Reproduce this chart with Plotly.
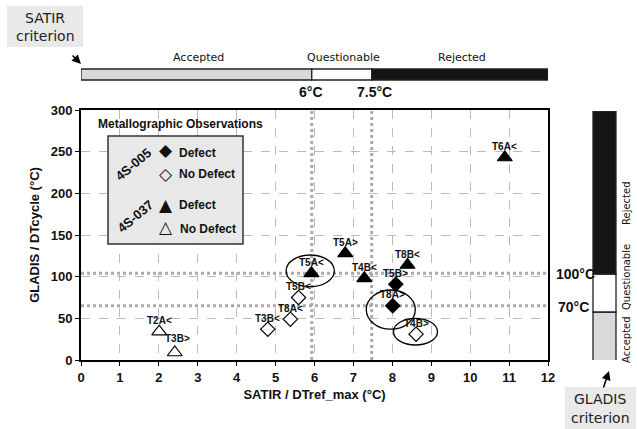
import plotly.graph_objects as go

# ---------------- data ----------------
d005_def_lbl = ["T5B>", "T8A>"]
d005_def_x = [8.09, 8.01]
d005_def_y = [91, 65]

d005_nod_lbl = ["T3B<", "T8A<", "T5B<", "T4B>"]
d005_nod_x = [4.80, 5.38, 5.59, 8.61]
d005_nod_y = [37, 49, 75, 31]

d037_def_lbl = ["T5A<", "T4B<", "T5A>", "T8B<", "T6A<"]
d037_def_x = [5.92, 7.28, 6.79, 8.39, 10.89]
d037_def_y = [104, 98, 128, 114, 243]

d037_nod_lbl = ["T2A<", "T3B>"]
d037_nod_x = [2.01, 2.41]
d037_nod_y = [34, 9]

satir_limits = [5.93, 7.47]      # 6°C, 7.5°C
gladis_limits = [65, 104]        # 70°C, 100°C lines
gladis_bar = [-6, 57.6, 103.2, 298]
x_ticks = list(range(0, 13))
y_ticks = [0, 50, 100, 150, 200, 250, 300]

# label offsets (style): (xshift, yshift) in px
lbl_off = {"T3B>": (3, 14)}

# ---------------- helpers (pixel -> paper) ----------------
L, R, T, B = 81, 548, 110, 360
def PX(X):
    return (X - L) / (R - L)
def PY(Y):
    return (B - Y) / (B - T)

BOLD = "Liberation Sans"
COMIC = "DejaVu Sans"

fig = go.Figure()

def add_series(xs, ys, symbol, fill):
    fig.add_trace(go.Scatter(
        x=xs, y=ys, mode="markers",
        marker=dict(symbol=symbol, size=13 if "triangle" in symbol else 11,
                    color=fill, line=dict(color="black", width=1.2)),
        showlegend=False, hoverinfo="skip"))

add_series(d005_def_x, d005_def_y, "diamond", "black")
add_series(d005_nod_x, d005_nod_y, "diamond", "white")
add_series(d037_def_x, d037_def_y, "triangle-up", "black")
add_series(d037_nod_x, d037_nod_y, "triangle-up", "white")

ann = []
for lbls, xs, ys in [(d005_def_lbl, d005_def_x, d005_def_y),
                     (d005_nod_lbl, d005_nod_x, d005_nod_y),
                     (d037_def_lbl, d037_def_x, d037_def_y),
                     (d037_nod_lbl, d037_nod_x, d037_nod_y)]:
    for l, x, y in zip(lbls, xs, ys):
        dx, dy = lbl_off.get(l, (0, 11))
        ann.append(dict(x=x, y=y, xref="x", yref="y", text="<b>" + l + "</b>",
                        showarrow=False, xshift=dx, yshift=dy,
                        font=dict(family=BOLD, size=10, color="#111")))

shapes = []
# dotted criterion lines
for xv in satir_limits:
    shapes.append(dict(type="line", xref="x", yref="y", x0=xv, x1=xv, y0=0, y1=300,
                       line=dict(color="#aaaaaa", width=3, dash="dot"), layer="between"))
for yv in gladis_limits:
    shapes.append(dict(type="line", xref="x", yref="y", x0=0, x1=12.15, y0=yv, y1=yv,
                       line=dict(color="#aaaaaa", width=3, dash="dot"), layer="between"))

# ellipses
for (x0, x1, y0, y1) in [(5.27, 6.51, 88, 126), (7.33, 8.59, 37, 84), (8.03, 9.16, 18, 50)]:
    shapes.append(dict(type="circle", xref="x", yref="y", x0=x0, x1=x1, y0=y0, y1=y1,
                       line=dict(color="black", width=1.3), layer="above"))

# top SATIR bar
bar_y0, bar_y1 = PY(80), PY(69)
for (a, b, c) in [(0, satir_limits[0], "#d9d9d9"), (satir_limits[0], satir_limits[1], "white"),
                  (satir_limits[1], 12.05, "#151515")]:
    shapes.append(dict(type="rect", xref="x", yref="paper", x0=a, x1=b, y0=bar_y0, y1=bar_y1,
                       fillcolor=c, line=dict(color="#222", width=1.3), layer="above"))

# right GLADIS bar
bx0, bx1 = PX(593), PX(616)
for (a, b, c) in [(gladis_bar[0], gladis_bar[1], "#d9d9d9"), (gladis_bar[1], gladis_bar[2], "white"),
                  (gladis_bar[2], gladis_bar[3], "#151515")]:
    shapes.append(dict(type="rect", xref="paper", yref="y", x0=bx0, x1=bx1, y0=a, y1=b,
                       fillcolor=c, line=dict(color="#222", width=1.3), layer="above"))

# legend box
shapes.append(dict(type="rect", xref="paper", yref="paper", x0=PX(108), x1=PX(243),
                   y0=PY(244), y1=PY(136), fillcolor="#e8e8e8",
                   line=dict(color="#333", width=1.5), layer="above"))

# SATIR / GLADIS criterion boxes
shapes.append(dict(type="rect", xref="paper", yref="paper", x0=PX(7), x1=PX(83),
                   y0=PY(47), y1=PY(6), fillcolor="#e9e9e9", line=dict(width=0), layer="above"))
shapes.append(dict(type="rect", xref="paper", yref="paper", x0=PX(565), x1=PX(636),
                   y0=PY(440), y1=PY(387), fillcolor="#e9e9e9", line=dict(width=0), layer="above"))

def txt(X, Y, s, size, family=BOLD, angle=0, xanchor="center", color="#111"):
    ann.append(dict(x=PX(X), y=PY(Y), xref="paper", yref="paper", text=s, showarrow=False,
                    xanchor=xanchor, yanchor="middle", textangle=angle,
                    font=dict(family=family, size=size, color=color)))

# legend content
txt(180, 124, "<b>Metallographic Observations</b>", 12)
txt(133, 164, "<b>4S-005</b>", 13, angle=-40)
txt(135, 216, "<b>4S-037</b>", 13, angle=-40)
txt(166, 150, "◆", 17, family="DejaVu Sans")
txt(166, 174, "◇", 17, family="DejaVu Sans")
txt(166, 205, "▲", 17, family="DejaVu Sans")
txt(166, 227, "△", 17, family="DejaVu Sans")
txt(177, 153, "<b>Defect</b>", 12, xanchor="left")
txt(177, 174, "<b>No Defect</b>", 12, xanchor="left")
txt(177, 205, "<b>Defect</b>", 12, xanchor="left")
txt(178, 229, "<b>No Defect</b>", 12, xanchor="left")

# top bar labels
txt(198, 57, "Accepted", 11, family=COMIC)
txt(343, 57, "Questionable", 11, family=COMIC)
txt(462, 57, "Rejected", 11, family=COMIC)
txt(311, 92, "<b>6°C</b>", 14)
txt(374, 92, "<b>7.5°C</b>", 14)

# right labels
txt(554, 274, "<b>100°C</b>", 14, xanchor="left")
txt(556, 307, "<b>70°C</b>", 14, xanchor="left")
txt(626, 203, "Rejected", 10, family=COMIC, angle=-90)
txt(626, 277, "Questionable", 10, family=COMIC, angle=-90)
txt(626, 340, "Accepted", 10, family=COMIC, angle=-90)

# criterion boxes text
txt(45, 18, "SATIR", 14, family=COMIC, color="#222")
txt(45, 36, "criterion", 14, family=COMIC, color="#222")
txt(600, 399, "GLADIS", 14, family=COMIC, color="#222")
txt(600, 418, "criterion", 14, family=COMIC, color="#222")

# arrows
ann.append(dict(x=PX(81), y=PY(64), ax=-10, ay=-10, xref="paper", yref="paper",
                axref="pixel", ayref="pixel", showarrow=True, arrowhead=2, arrowsize=1.2,
                arrowwidth=1.5, arrowcolor="black", text=""))
ann.append(dict(x=PX(609), y=PY(371), ax=-6, ay=18, xref="paper", yref="paper",
                axref="pixel", ayref="pixel", showarrow=True, arrowhead=2, arrowsize=1.2,
                arrowwidth=1.5, arrowcolor="black", text=""))

fig.update_layout(
    width=637, height=429,
    margin=dict(l=L, r=637 - R, t=T, b=429 - B, pad=0),
    plot_bgcolor="white", paper_bgcolor="white",
    showlegend=False,
    shapes=shapes, annotations=ann,
    xaxis=dict(range=[0, 12], tickvals=x_ticks, ticktext=["<b>%d</b>" % v for v in x_ticks],
               showgrid=True, gridcolor="#bbbbbb", griddash="dash", gridwidth=1,
               showline=True, linecolor="black", linewidth=2, mirror=True,
               ticks="outside", ticklen=4, tickcolor="black", zeroline=False,
               tickfont=dict(family=BOLD, size=13, color="#111"),
               title=dict(text="<b>SATIR / DTref_max (°C)</b>", standoff=6,
                          font=dict(family=BOLD, size=13, color="#111"))),
    yaxis=dict(range=[0, 300], tickvals=y_ticks, ticktext=["<b>%d</b>" % v for v in y_ticks],
               showgrid=True, gridcolor="#bbbbbb", griddash="dash", gridwidth=1,
               showline=True, linecolor="black", linewidth=2, mirror=True,
               ticks="outside", ticklen=4, tickcolor="black", zeroline=False,
               tickfont=dict(family=BOLD, size=13, color="#111"),
               title=dict(text="<b>GLADIS / DTcycle (°C)</b>", standoff=8,
                          font=dict(family=BOLD, size=13, color="#111"))),
)

fig.write_html("out.html", config={"displayModeBar": False},
               post_script="document.body.style.margin='0';")
